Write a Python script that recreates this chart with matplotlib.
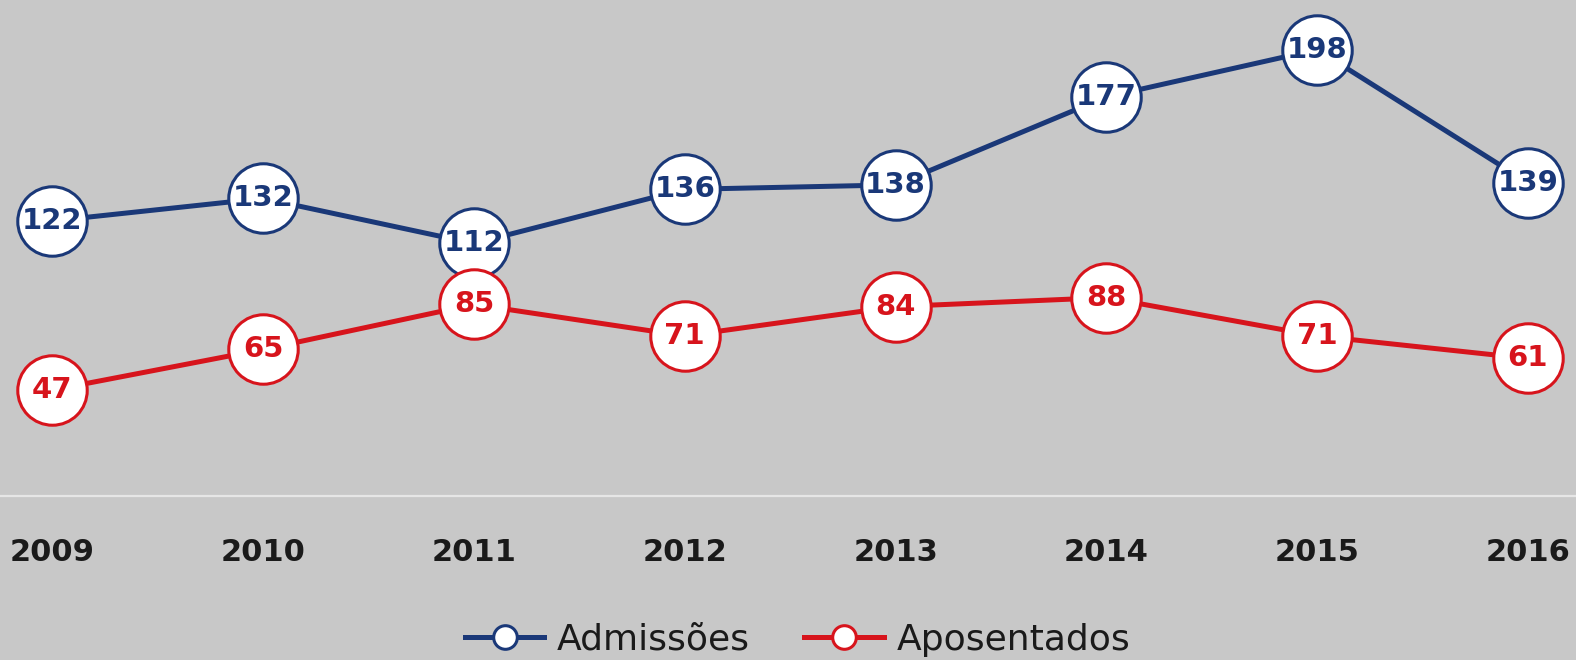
import matplotlib
matplotlib.use("Agg")
import matplotlib.pyplot as plt

anos = ["2009", "2010", "2011", "2012", "2013", "2014", "2015", "2016"]
admissoes = [122, 132, 112, 136, 138, 177, 198, 139]
aposentados = [47, 65, 85, 71, 84, 88, 71, 61]

azul = "#1a3878"
vermelho = "#d7141c"
fundo = "#c8c8c8"

plt.rcParams['font.family'] = ['DejaVu Sans']

fig = plt.figure(figsize=(15.76, 6.60), dpi=100, facecolor=fundo)
ax = fig.add_axes([0, 1 - 496 / 660, 1, 496 / 660])
ax.set_facecolor(fundo)

x = list(range(len(anos)))
for serie, cor, nome in [(admissoes, azul, "Admissões"), (aposentados, vermelho, "Aposentados")]:
    ax.plot(x, serie, color=cor, lw=3.6, marker="o", ms=50, mfc="white",
            mec=cor, mew=2.2, label=nome, zorder=3)
    for xi, v in zip(x, serie):
        ax.text(xi, v, str(v), ha="center", va="center", color=cor,
                fontsize=21, fontweight="bold", zorder=4)

ax.set_ylim(0, 220)
ax.set_xlim(-52.3 / 210.8, (1576 - 52.3) / 210.8)
ax.set_xticks(x)
ax.set_xticklabels(anos, fontsize=22, fontweight="bold", color="#1a1a1a")
ax.tick_params(axis="x", length=0, pad=30)
ax.set_yticks([])
for s in ["top", "left", "right"]:
    ax.spines[s].set_visible(False)
ax.spines["bottom"].set_color("#e6e6e6")
ax.spines["bottom"].set_linewidth(1.6)

handles, labels = ax.get_legend_handles_labels()
leg = fig.legend(handles, labels, loc="center", bbox_to_anchor=(0.506, 1 - 640 / 660),
                 ncol=2, frameon=False, fontsize=26, markerscale=0.34,
                 handlelength=2.2, columnspacing=1.5, handletextpad=0.35)
for t in leg.get_texts():
    t.set_color("#1a1a1a")

fig.savefig("out.png", dpi=100, facecolor=fundo)
